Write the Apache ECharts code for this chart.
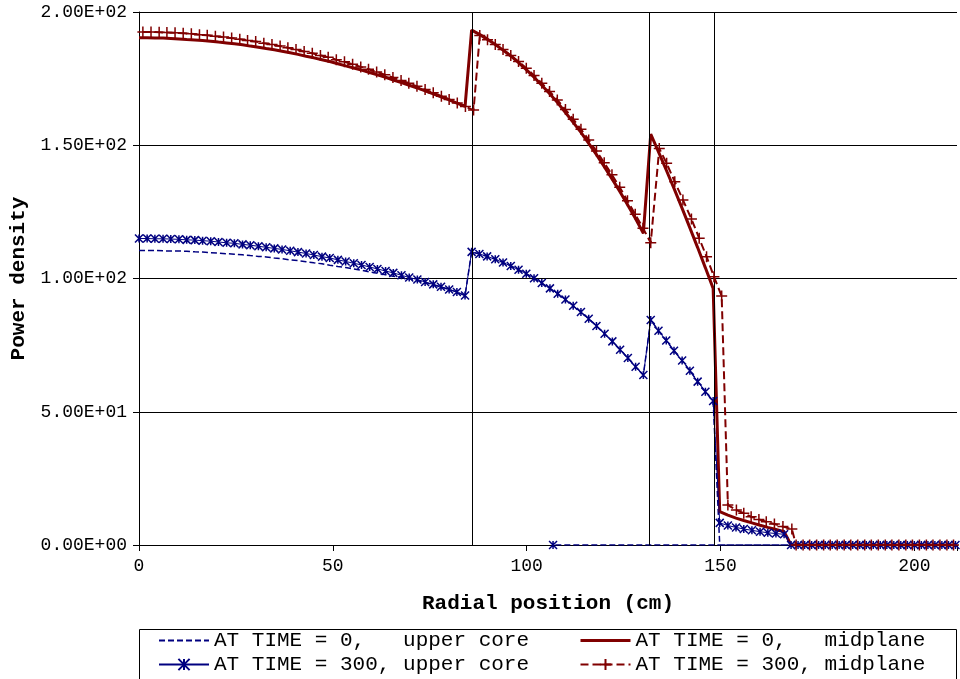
<!DOCTYPE html>
<html>
<head>
<meta charset="utf-8">
<script src="https://cdn.jsdelivr.net/npm/echarts@6/dist/echarts.min.js"></script>
<style>html,body{margin:0;padding:0;background:#fff;}#chart{width:960px;height:679px;}</style>
</head>
<body>
<div id="chart"></div>
<script>
// ---- Data ----
const seriesNames = ['AT TIME = 0,   upper core', 'AT TIME = 0,   midplane', 'AT TIME = 300, upper core', 'AT TIME = 300, midplane'];
const boundaries = [85.9, 131.7, 148.5];
const xTicks = [0, 50, 100, 150, 200];
const yTicks = [0, 50, 100, 150, 200];

// radial mesh (cm) used for time 0 curves and time 300 upper core
const xMesh = [0,2.1,4.1,6.2,8.2,10.3,12.3,14.4,16.4,18.5,20.5,22.6,24.6,26.7,28.7,30.8,32.8,34.9,36.9,39,41,43.1,45.1,47.2,49.2,51.3,53.3,55.4,57.4,59.5,61.5,63.6,65.6,67.7,69.7,71.8,73.8,75.9,77.9,80,82,84.1,
  85.8,87.8,89.8,91.9,93.9,95.9,97.9,99.9,101.9,103.9,106,108,110,112,114,116,118,120.1,122.1,124.1,126.1,128.1,130.1,
  132,134,136,138,140.1,142.1,144.1,146.1,148.1,
  149.8,151.9,154,156,158.1,160.2,162.2,164.3,166.4,
  168.2,170,171.7,173.5,175.3,177,178.8,180.6,182.3,184.1,185.9,187.6,189.4,191.2,192.9,194.7,196.5,198.2,200,201.8,203.5,205.3,207.1,208.8,210.6];

const yUpper0 = [110.5,110.5,110.5,110.4,110.3,110.3,110.2,110.0,109.9,109.7,109.5,109.3,109.1,108.9,108.6,108.3,108.1,107.7,107.4,107.0,106.7,106.3,105.9,105.5,105.0,104.5,104.1,103.6,103.1,102.5,102.0,101.4,100.8,100.6,100.0,99.3,98.5,97.7,96.8,95.9,94.9,93.6,
  110.0,109.2,108.3,107.2,106.0,104.7,103.3,101.8,100.1,98.3,96.3,94.3,92.1,89.8,87.4,84.9,82.2,79.3,76.4,73.3,70.2,66.9,63.8,
  84.4,80.4,76.7,72.9,69.2,65.4,61.3,57.5,54.0,
  0,0,0,0,0,0,0,0,0,
  0,0,0,0,0,0,0,0,0,0,0,0,0,0,0,0,0,0,0,0,0,0,0,0,0];

const yMid0 = [190.3,190.3,190.2,190.2,190.1,189.9,189.7,189.5,189.3,189.0,188.7,188.4,188.1,187.7,187.2,186.8,186.3,185.8,185.3,184.7,184.1,183.4,182.8,182.1,181.4,180.6,179.8,179.0,178.2,177.3,176.4,175.5,174.5,173.5,172.5,171.5,170.4,169.3,168.2,167.0,165.8,164.6,
  193.2,191.6,189.9,187.8,185.7,183.5,181.0,178.4,175.5,172.5,169.2,165.9,162.3,158.6,154.8,150.7,146.5,141.8,137.2,132.5,127.5,122.4,117.0,
  154.2,147.5,140.7,133.8,126.3,119.0,111.6,104.0,96.3,
  12.5,11.2,10.1,9.2,8.3,7.4,6.6,5.8,5.0,
  0,0,0,0,0,0,0,0,0,0,0,0,0,0,0,0,0,0,0,0,0,0,0,0,0];

const yUpper300 = [115.0,115.0,114.9,114.9,114.8,114.7,114.5,114.4,114.2,114.0,113.7,113.4,113.2,112.8,112.5,112.1,111.7,111.3,110.9,110.4,109.9,109.4,108.8,108.2,107.7,107.0,106.4,105.7,105.1,104.3,103.6,102.8,102.1,101.2,100.4,99.6,98.7,97.8,96.9,95.9,94.9,93.6,
  110.0,109.2,108.3,107.2,106.0,104.7,103.3,101.8,100.1,98.3,96.3,94.3,92.1,89.8,87.4,84.9,82.2,79.3,76.4,73.3,70.2,66.9,63.8,
  84.4,80.4,76.7,72.9,69.2,65.4,61.3,57.5,54.0,
  8.3,7.3,6.6,6.0,5.5,5.0,4.6,4.3,4.0,
  0,0,0,0,0,0,0,0,0,0,0,0,0,0,0,0,0,0,0,0,0,0,0,0,0];

// stray zero point (appears in both upper-core series)
const strayX = 106.8;
const strayY = 0;

// mesh for time 300 midplane (expanded)
const xMesh300 = [1.0,3.1,5.2,7.2,9.3,11.4,13.5,15.6,17.6,19.7,21.8,23.9,26.0,28.0,30.1,32.2,34.3,36.4,38.4,40.5,42.6,44.7,46.8,48.8,50.9,53.0,55.1,57.2,59.2,61.3,63.4,65.5,67.6,69.6,71.7,73.8,75.9,78.0,80.0,82.1,84.2,86.3,
  87.9,89.9,91.9,93.9,95.9,97.9,99.9,101.9,103.9,105.9,107.9,110,112,114,116,118,120,122,124,126,128,130,132,
  134.2,136.1,138.2,140.3,142.5,144.5,146.4,148.3,150.3,
  151.9,154.1,156.0,157.9,159.9,161.8,163.9,166.1,168.4,
  169.5,171.3,173.0,174.8,176.6,178.3,180.1,181.9,183.6,185.4,187.2,188.9,190.7,192.5,194.2,196.0,197.8,199.5,201.3,203.1,204.8,206.6,208.4,210.1];

const yMid300 = [192.5,192.5,192.4,192.3,192.2,192.0,191.8,191.5,191.3,190.9,190.6,190.2,189.8,189.3,188.9,188.3,187.8,187.2,186.6,185.9,185.2,184.5,183.7,183.0,182.1,181.3,180.4,179.4,178.5,177.5,176.5,175.4,174.3,173.3,172.1,170.9,169.7,168.4,167.2,165.9,164.5,163.2,
  191.2,189.6,187.8,185.9,183.7,181.4,178.9,176.2,173.3,170.2,167.0,163.4,159.8,156.0,152.0,147.8,143.4,138.9,134.2,129.2,124.1,118.9,113.4,
  148.8,143.2,136.3,129.5,122.3,115.1,108.2,100.7,93.4,
  15.0,13.1,11.9,10.6,9.6,8.7,7.9,6.9,6.0,
  0,0,0,0,0,0,0,0,0,0,0,0,0,0,0,0,0,0,0,0,0,0,0,0];

// ---- Build ----
const zip = (xs, ys) => xs.map((x, i) => [x, ys[i]]);
const dUpper0 = zip(xMesh, yUpper0); dUpper0.push([strayX, strayY]);
const dMid0 = zip(xMesh, yMid0);
const dUpper300 = zip(xMesh, yUpper300); dUpper300.push(['-', '-']); dUpper300.push([strayX, strayY]);
const dMid300 = zip(xMesh300, yMid300);

const RED = '#800000', BLUE = '#000080';
const FONT = 'Liberation Mono';
const PLUS = 'path://M5,0L5,10M0,5L10,5';
const STAR = 'path://M0,0L10,10M10,0L0,10M5,0L5,10';

function sci(v) {
  if (v === 0) return '0.00E+00';
  const e = Math.floor(Math.log10(Math.abs(v)));
  const m = v / Math.pow(10, e);
  return m.toFixed(2) + 'E' + (e < 0 ? '-' : '+') + String(Math.abs(e)).padStart(2, '0');
}

const chart = echarts.init(document.getElementById('chart'), null, {renderer: 'canvas'});
const legendText = {fontFamily: FONT, fontSize: 21, color: '#000'};
const noSym = {opacity: 0};
chart.setOption({
  animation: false,
  backgroundColor: '#fff',
  grid: {left: 139, right: 0, top: 12, bottom: 134},
  xAxis: {
    type: 'value', min: 0, max: 211, interval: 50,
    name: 'Radial position (cm)', nameLocation: 'middle', nameGap: 48,
    nameTextStyle: {fontFamily: FONT, fontWeight: 'bold', fontSize: 21, color: '#000'},
    axisLine: {show: true, lineStyle: {color: '#000', width: 1}},
    axisTick: {show: true, length: 6, lineStyle: {color: '#000'}},
    axisLabel: {fontFamily: FONT, fontSize: 18, color: '#000', margin: 12,
      formatter: v => xTicks.includes(v) ? String(v) : ''},
    splitLine: {show: false}
  },
  yAxis: {
    type: 'value', min: 0, max: 200, interval: 50,
    name: 'Power density', nameLocation: 'middle', nameGap: 106, nameRotate: 90,
    nameTextStyle: {fontFamily: FONT, fontWeight: 'bold', fontSize: 21, color: '#000'},
    axisLine: {show: true, lineStyle: {color: '#000', width: 1}},
    axisTick: {show: true, length: 6, lineStyle: {color: '#000'}},
    axisLabel: {fontFamily: FONT, fontSize: 18, color: '#000', margin: 12,
      formatter: v => yTicks.includes(v) ? sci(v) : ''},
    splitLine: {show: true, lineStyle: {color: '#000', width: 1}}
  },
  legend: [
    {data: [{name: seriesNames[0], itemStyle: noSym}, {name: seriesNames[2]}], orient: 'vertical', left: 158, top: 630,
     itemWidth: 50, itemHeight: 14, itemGap: 3, padding: 0, textStyle: legendText},
    {data: [{name: seriesNames[1], itemStyle: noSym, lineStyle: {width: 3}}, {name: seriesNames[3]}], orient: 'vertical', left: 579, top: 630,
     itemWidth: 50, itemHeight: 14, itemGap: 3, padding: 0, textStyle: legendText}
  ],
  graphic: [{type: 'rect', left: 137, top: 627, shape: {width: 817, height: 50},
    style: {fill: 'none', stroke: '#000', lineWidth: 1}, silent: true}],
  series: [
    {name: seriesNames[0], type: 'line', data: dUpper0, showSymbol: false,
     lineStyle: {color: BLUE, width: 1.5, type: [6, 3]}, itemStyle: {color: BLUE}, silent: true, z: 2},
    {name: seriesNames[1], type: 'line', data: dMid0, showSymbol: false,
     lineStyle: {color: RED, width: 3, type: 'solid'}, itemStyle: {color: RED}, silent: true, z: 3,
     markLine: {silent: true, symbol: 'none', animation: false, label: {show: false},
       lineStyle: {color: '#000', width: 1, type: 'solid'},
       data: boundaries.map(b => ({xAxis: b}))}},
    {name: seriesNames[2], type: 'line', data: dUpper300, symbol: STAR, symbolSize: 8, showAllSymbol: true,
     lineStyle: {color: BLUE, width: 1, type: 'solid'},
     itemStyle: {color: BLUE, borderColor: BLUE, borderWidth: 1.5}, silent: true, z: 4},
    {name: seriesNames[3], type: 'line', data: dMid300, symbol: PLUS, symbolSize: 11, showAllSymbol: true,
     lineStyle: {color: RED, width: 2, type: [8, 4]},
     itemStyle: {color: RED, borderColor: RED, borderWidth: 1.5}, silent: true, z: 5}
  ]
});
</script>
</body>
</html>
